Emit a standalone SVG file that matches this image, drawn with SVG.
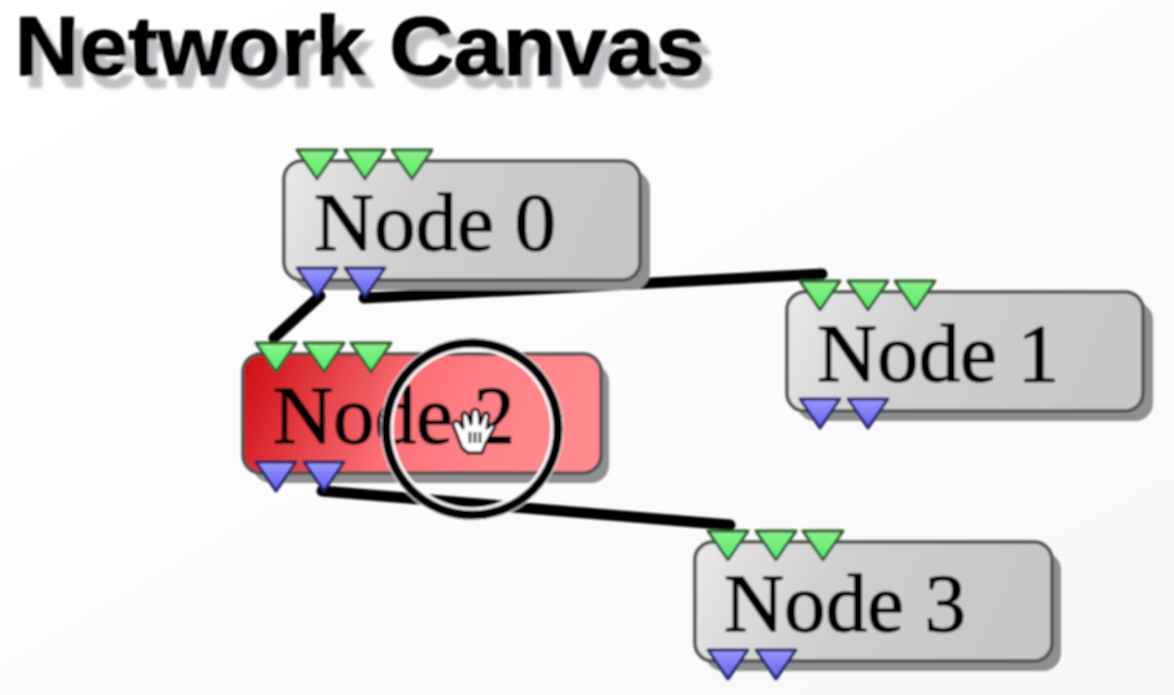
<svg xmlns="http://www.w3.org/2000/svg" width="1174" height="695" viewBox="0 0 1174 695">
<defs>
<linearGradient id="bg" x1="0" y1="0" x2="1" y2="1"><stop offset="0" stop-color="#ffffff"/><stop offset="1" stop-color="#f8f8f8"/></linearGradient>
<linearGradient id="grey" x1="0" y1="0" x2="1" y2="0.15"><stop offset="0" stop-color="#e8e8e8"/><stop offset="0.4" stop-color="#d0d0d0"/><stop offset="1" stop-color="#c6c6c6"/></linearGradient>
<linearGradient id="red" x1="0" y1="0" x2="1" y2="0.15"><stop offset="0" stop-color="#cc0a10"/><stop offset="0.5" stop-color="#fb6f76"/><stop offset="0.7" stop-color="#ff8085"/><stop offset="1" stop-color="#ff8a8e"/></linearGradient>
<linearGradient id="gr" x1="0" y1="0" x2="0" y2="1"><stop offset="0" stop-color="#8cf08c"/><stop offset="1" stop-color="#55ee66"/></linearGradient>
<linearGradient id="bl" x1="0" y1="0" x2="0" y2="1"><stop offset="0" stop-color="#9a9aff"/><stop offset="1" stop-color="#5f5ff0"/></linearGradient>
<polygon id="tri" points="-20,-14 20,-14 0,15"/>
<filter id="soft" x="-2%" y="-2%" width="104%" height="104%"><feGaussianBlur stdDeviation="0.8"/></filter>
<filter id="tshadow" x="-5%" y="-10%" width="110%" height="140%"><feDropShadow dx="9" dy="12" stdDeviation="1.5" flood-color="#bfbfc4"/></filter>
</defs>
<style>
.shadow{fill:#8f8f8f}
.box{stroke:#505050;stroke-width:3.5}
.lbl{font-family:"Liberation Serif","Times New Roman",serif;font-size:83px;fill:#000;stroke:#000;stroke-width:1.3}
.in{fill:url(#gr);stroke:#2f5a2f;stroke-width:3;stroke-linejoin:round}
.out{fill:url(#bl);stroke:#1e1e60;stroke-width:3;stroke-linejoin:round}
.title{font-family:"Liberation Sans",Arial,sans-serif;font-weight:700;font-size:84px;stroke:#000;stroke-width:1.6}
.conn{fill:none;stroke:#000;stroke-width:11;stroke-linecap:round}
</style>
<rect width="1174" height="695" fill="url(#bg)"/>
<g filter="url(#soft)">
<g id="title" filter="url(#tshadow)">
<text class="title" x="15" y="75" fill="#000" textLength="690" lengthAdjust="spacingAndGlyphs">Network Canvas</text>
</g>
<g id="connectors">
<line class="conn" x1="274" y1="338" x2="320" y2="296"/>
<line class="conn" x1="364" y1="298" x2="822" y2="274"/>
<line class="conn" x1="322" y1="491" x2="730" y2="525"/>
</g>
<g id="node0">
<rect class="shadow" x="294" y="171" width="356" height="119" rx="18"/>
<rect class="box" x="284" y="161" width="356" height="119" rx="18" fill="url(#grey)"/>
<text class="lbl" x="314" y="250">Node 0</text>
<use href="#tri" class="in" x="317" y="164"/><use href="#tri" class="in" x="365" y="164"/><use href="#tri" class="in" x="412" y="164"/>
<use href="#tri" class="out" x="317" y="282"/><use href="#tri" class="out" x="365" y="282"/>
</g>
<g id="node1">
<rect class="shadow" x="797" y="302" width="356" height="119" rx="18"/>
<rect class="box" x="787" y="292" width="356" height="119" rx="18" fill="url(#grey)"/>
<text class="lbl" x="817" y="381">Node 1</text>
<use href="#tri" class="in" x="820" y="295"/><use href="#tri" class="in" x="868" y="295"/><use href="#tri" class="in" x="915" y="295"/>
<use href="#tri" class="out" x="820" y="413"/><use href="#tri" class="out" x="868" y="413"/>
</g>
<g id="node2">
<rect class="shadow" x="253" y="364" width="356" height="119" rx="18"/>
<rect class="box" x="243" y="354" width="358" height="119" rx="18" fill="url(#red)"/>
<text class="lbl" x="273" y="443">Node 2</text>
<use href="#tri" class="in" x="276" y="357"/><use href="#tri" class="in" x="324" y="357"/><use href="#tri" class="in" x="371" y="357"/>
<use href="#tri" class="out" x="276" y="476"/><use href="#tri" class="out" x="324" y="476"/>
</g>
<g id="node3">
<rect class="shadow" x="705" y="552" width="356" height="119" rx="18"/>
<rect class="box" x="695" y="542" width="357" height="119" rx="18" fill="url(#grey)"/>
<text class="lbl" x="724" y="631">Node 3</text>
<use href="#tri" class="in" x="728" y="545"/><use href="#tri" class="in" x="776" y="545"/><use href="#tri" class="in" x="823" y="545"/>
<use href="#tri" class="out" x="728" y="664"/><use href="#tri" class="out" x="776" y="664"/>
</g>
<g id="cursor-highlight">
<circle cx="472" cy="429" r="85" fill="none" stroke="#fff" stroke-width="13"/>
<circle cx="472" cy="429" r="86" fill="none" stroke="#000" stroke-width="9"/>
<path d="M462,448 L453,425 Q453,419 459,422 L463,428 L462,415 Q464,410 468,415 L471,424 L472,411 Q476,407 479,412 L480,424 L484,414 Q488,411 489,416 L487,428 L492,424 Q496,424 494,429 L486,443 L482,453 L468,453 Z" fill="#fff" stroke="#000" stroke-width="3" stroke-linejoin="round"/>
<path d="M470,432V443M475,432V443M480,432V443" stroke="#000" stroke-width="2.5" fill="none"/>
</g>
</g>
</svg>
